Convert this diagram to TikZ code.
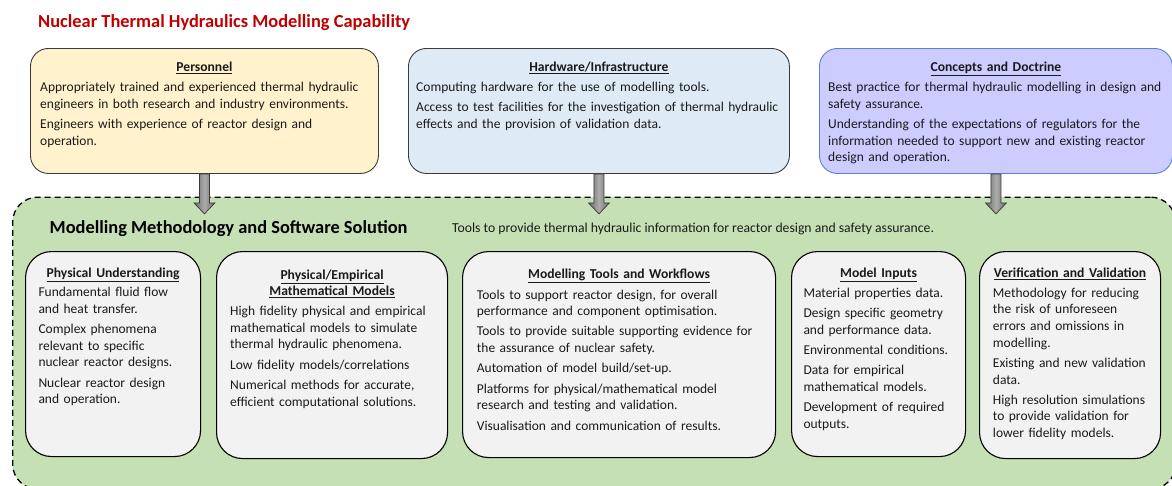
\documentclass[tikz,border=0pt]{standalone}
\usepackage{fontspec}
\setmainfont{Carlito}
\usetikzlibrary{calc}

\definecolor{titlered}{HTML}{C00000}
\definecolor{txt}{HTML}{1A1A1A}
\definecolor{persfill}{HTML}{FFF2CC}
\definecolor{hardfill}{HTML}{DEEBF7}
\definecolor{conceptfill}{HTML}{CCCCFF}
\definecolor{conceptedge}{HTML}{5B80D8}
\definecolor{boxedge}{HTML}{3A3A3A}
\definecolor{greenfill}{HTML}{C5E0B4}
\definecolor{innerfill}{HTML}{F2F2F2}
\definecolor{arrowedge}{HTML}{6A6A6A}
\definecolor{arrowmid}{HTML}{ABABAB}

\tikzset{
  topbox/.style={draw=boxedge, line width=0.9pt, rounded corners=18pt,
    inner sep=0pt, anchor=north west},
  innerbox/.style={draw=black, fill=innerfill, line width=1.1pt,
    rounded corners=26pt, inner sep=0pt, anchor=north west},
  framebox/.style={draw=black, fill=greenfill, line width=1.3pt,
    dash pattern=on 6pt off 4pt, rounded corners=25pt, inner sep=0pt,
    anchor=north west},
  head/.style={font=\bfseries\fontsize{13.6}{15.7}\selectfont, text=txt,
    inner sep=0pt, anchor=base, align=center, text width=240pt},
  body/.style={font=\fontsize{13.5}{16.6}\selectfont, text=txt,
    inner sep=0pt, anchor=base west, align=left, text width=420pt},
  feed/.style={draw=boxedge, line width=0.7pt, left color=arrowedge,
    right color=arrowedge, middle color=arrowmid},
}
% vertical gap between two items of a list
\newcommand{\gapline}{\\[3.7pt]}
% block arrow hanging below a box
\newcommand{\feedarrow}[1]{%
  \draw[feed] ([xshift=-5pt]#1.south) -- ++(0,29) -- ++(-5.5,0)
    -- ++(10.5,11) -- ++(10.5,-11) -- ++(-5.5,0) -- ++(0,-29) -- cycle;}

\begin{document}
\begin{tikzpicture}[x=1pt, y=-1pt]
\useasboundingbox (0,0) rectangle (1172,485);
\clip (0,0) rectangle (1172,485);

% title
\node[font=\bfseries\fontsize{18.4}{22}\selectfont, text=titlered,
  inner sep=0pt, anchor=base west] (title) at (38,27)
  {Nuclear Thermal Hydraulics Modelling Capability};

% capability container
\node[framebox, minimum width=1163, minimum height=292] (frame) at (12,196.5) {};

% the three enabling areas
\node[topbox, fill=persfill, minimum width=348, minimum height=125] (pers) at (30,48) {};
\node[topbox, fill=hardfill, minimum width=381, minimum height=125] (hard) at (408,48) {};
\node[topbox, draw=conceptedge, fill=conceptfill, minimum width=353, minimum height=125] (conc) at (819,48) {};

\node[head] (persh) at ($(pers.north)+(0,23.5)$) {\underline{Personnel}};
\node[body] (perst) at (40,91.5)
  {Appropriately trained and experienced thermal hydraulic\\
   engineers in both research and industry environments.\gapline
   Engineers with experience of reactor design and\\
   operation.};

\node[head] (hardh) at ($(hard.north)+(0,23.5)$) {\underline{Hardware/Infrastructure}};
\node[body] (hardt) at (416,91.5)
  {Computing hardware for the use of modelling tools.\gapline
   Access to test facilities for the investigation of thermal hydraulic\\
   effects and the provision of validation data.};

\node[head] (conch) at ($(conc.north)+(0,23.5)$) {\underline{Concepts and Doctrine}};
\node[body] (conct) at (828,91.5)
  {Best practice for thermal hydraulic modelling in design and\\
   safety assurance.\gapline
   Understanding of the expectations of regulators for the\\
   information needed to support new and existing reactor\\
   design and operation.};

% arrows feeding the container
\feedarrow{pers}
\feedarrow{hard}
\feedarrow{conc}

% container headings
\node[font=\bfseries\fontsize{18.4}{22}\selectfont, text=black, inner sep=0pt,
  anchor=base west] (mmh) at (49.5,233.5)
  {Modelling Methodology and Software Solution};
\node[font=\fontsize{13.7}{16}\selectfont, text=txt, inner sep=0pt,
  anchor=base west] (mmt) at (452,232)
  {Tools to provide thermal hydraulic information for reactor design and safety assurance.};

% the five components
\node[innerbox, minimum width=175, minimum height=205] (phys) at (25,251) {};
\node[innerbox, minimum width=231, minimum height=207] (emp) at (216,251) {};
\node[innerbox, minimum width=313, minimum height=206] (tools) at (462,251) {};
\node[innerbox, minimum width=174, minimum height=205] (inp) at (791,251) {};
\node[innerbox, minimum width=181, minimum height=207] (vv) at (979,251) {};

\node[head] (physh) at ($(phys.north)+(0,26.5)$) {\underline{Physical Understanding}};
\node[body] (physt) at (38.3,296.7)
  {Fundamental fluid flow\\
   and heat transfer.\gapline
   Complex phenomena\\
   relevant to specific\\
   nuclear reactor designs.\gapline
   Nuclear reactor design\\
   and operation.};

\node[head] (emph) at ($(emp.north)+(0,28.5)$)
  {\underline{Physical/Empirical}\\ \underline{Mathematical Models}};
\node[body] (empt) at (230,315.7)
  {High fidelity physical and empirical\\
   mathematical models to simulate\\
   thermal hydraulic phenomena.\gapline
   Low fidelity models/correlations\gapline
   Numerical methods for accurate,\\
   efficient computational solutions.};

\node[head] (toolsh) at ($(tools.north)+(0,27.5)$) {\underline{Modelling Tools and Workflows}};
\node[body] (toolst) at (476.7,299)
  {Tools to support reactor design, for overall\\
   performance and component optimisation.\gapline
   Tools to provide suitable supporting evidence for\\
   the assurance of nuclear safety.\gapline
   Automation of model build/set-up.\gapline
   Platforms for physical/mathematical model\\
   research and testing and validation.\gapline
   Visualisation and communication of results.};

\node[head] (inph) at ($(inp.north)+(0,26.5)$) {\underline{Model Inputs}};
\node[body] (inpt) at (803.3,297.3)
  {Material properties data.\gapline
   Design specific geometry\\
   and performance data.\gapline
   Environmental conditions.\gapline
   Data for empirical\\
   mathematical models.\gapline
   Development of required\\
   outputs.};

\node[head] (vvh) at ($(vv.north)+(0,26.5)$) {\underline{Verification and Validation}};
\node[body] (vvt) at (992.7,297.3)
  {Methodology for reducing\\
   the risk of unforeseen\\
   errors and omissions in\\
   modelling.\gapline
   Existing and new validation\\
   data.\gapline
   High resolution simulations\\
   to provide validation for\\
   lower fidelity models.};
\end{tikzpicture}
\end{document}
